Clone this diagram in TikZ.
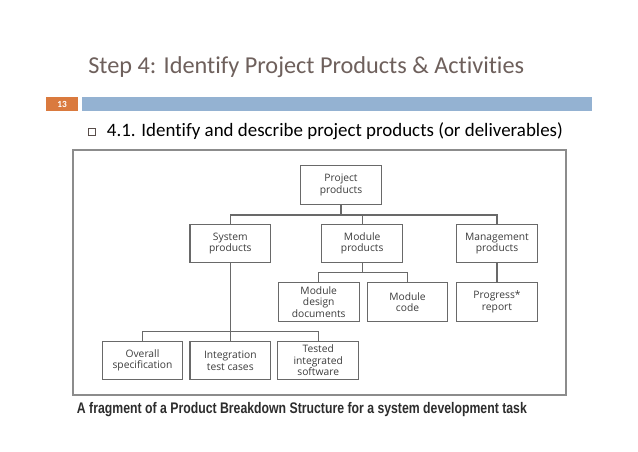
\documentclass[tikz,border=0pt]{standalone}
\usepackage{fontspec}
\setmainfont[Ligatures={NoCommon,NoContextual}]{Carlito}
\newfontfamily\boxfont{Open Sans}
\newfontfamily\capfont[FakeStretch=0.8]{Liberation Sans}
\definecolor{titlecol}{RGB}{110,96,92}
\definecolor{barblue}{RGB}{148,178,210}
\definecolor{barorange}{RGB}{218,122,62}
\definecolor{boxline}{RGB}{105,105,105}
\definecolor{boxtext}{RGB}{60,60,60}
\definecolor{framecol}{RGB}{140,140,140}
\definecolor{capcol}{RGB}{45,45,45}
\tikzset{
  pbox/.style={draw=boxline, line width=0.8pt, minimum width=60.5pt, minimum height=29pt,
    inner sep=0pt, align=center, text=boxtext,
    font=\boxfont\fontsize{7.7pt}{8.7pt}\selectfont},
  link/.style={draw=boxline, line width=0.8pt}
}
\begin{document}
\begin{tikzpicture}[x=0.75pt,y=-0.75pt]
\useasboundingbox[fill=white] (0,0) rectangle (638,451);
% header
\node[anchor=base west, inner sep=0pt, text=titlecol, font=\fontsize{18.2pt}{20pt}\selectfont] (title) at (88,73.3) {Step 4: Identify Project Products \& Activities};
\fill[barorange] (46,97.3) rectangle (78.3,110.7);
\node[text=white, font=\bfseries\fontsize{7pt}{8pt}\selectfont, inner sep=0pt] (num) at (62.2,104) {13};
\fill[barblue] (81.7,97.3) rectangle (592,110.7);
\node[draw=titlecol!80!black, line width=0.5pt, minimum size=4.8pt, inner sep=0pt] (bullet) at (92,132) {};
\node[anchor=base west, inner sep=0pt, text=black, font=\fontsize{14.2pt}{17pt}\selectfont] (sub) at (106.7,136.7) {4.1. Identify and describe project products (or deliverables)};
% frame
\draw[framecol, line width=1.3pt] (73,150) rectangle (566,395);
% boxes
\node[pbox] (proj) at (341,185) {Project\\products};
\node[pbox] (sys) at (230.3,243.5) {System\\products};
\node[pbox] (mod) at (362.2,243.5) {Module\\products};
\node[pbox] (mgmt) at (497,243.5) {Management\\products};
\node[pbox] (mdd) at (318.7,302) {Module\\design\\documents};
\node[pbox] (mcode) at (407.5,302) {Module\\code};
\node[pbox] (prog) at (497,302) {Progress*\\report};
\node[pbox] (overall) at (142.5,360.5) {Overall\\specification};
\node[pbox] (integ) at (230.3,360.5) {Integration\\test cases};
\node[pbox] (tested) at (318.2,360.5) {Tested\\integrated\\software};
% buses
\coordinate (bus1) at (0,215);
\coordinate (bus2) at (0,272.3);
\coordinate (bus3) at (0,331.7);
\draw[link] (proj.south) -- (proj.south |- bus1);
\draw[link] (sys.north) -- (sys.north |- bus1) -- (mgmt.north |- bus1) -- (mgmt.north);
\draw[link] (mod.north) -- (mod.north |- bus1);
\draw[link] (mod.south) -- (mod.south |- bus2);
\draw[link] (mdd.north) -- (mdd.north |- bus2) -- (mcode.north |- bus2) -- (mcode.north);
\draw[link] (mgmt.south) -- (prog.north);
\draw[link] (sys.south) -- (integ.north);
\draw[link] (overall.north) -- (overall.north |- bus3) -- (tested.north |- bus3) -- (tested.north);
% caption
\node[anchor=base west, inner sep=0pt, text=capcol, font=\capfont\bfseries\fontsize{11.5pt}{13pt}\selectfont] (cap) at (76.7,413) {A fragment of a Product Breakdown Structure for a system development task};
\end{tikzpicture}
\end{document}
